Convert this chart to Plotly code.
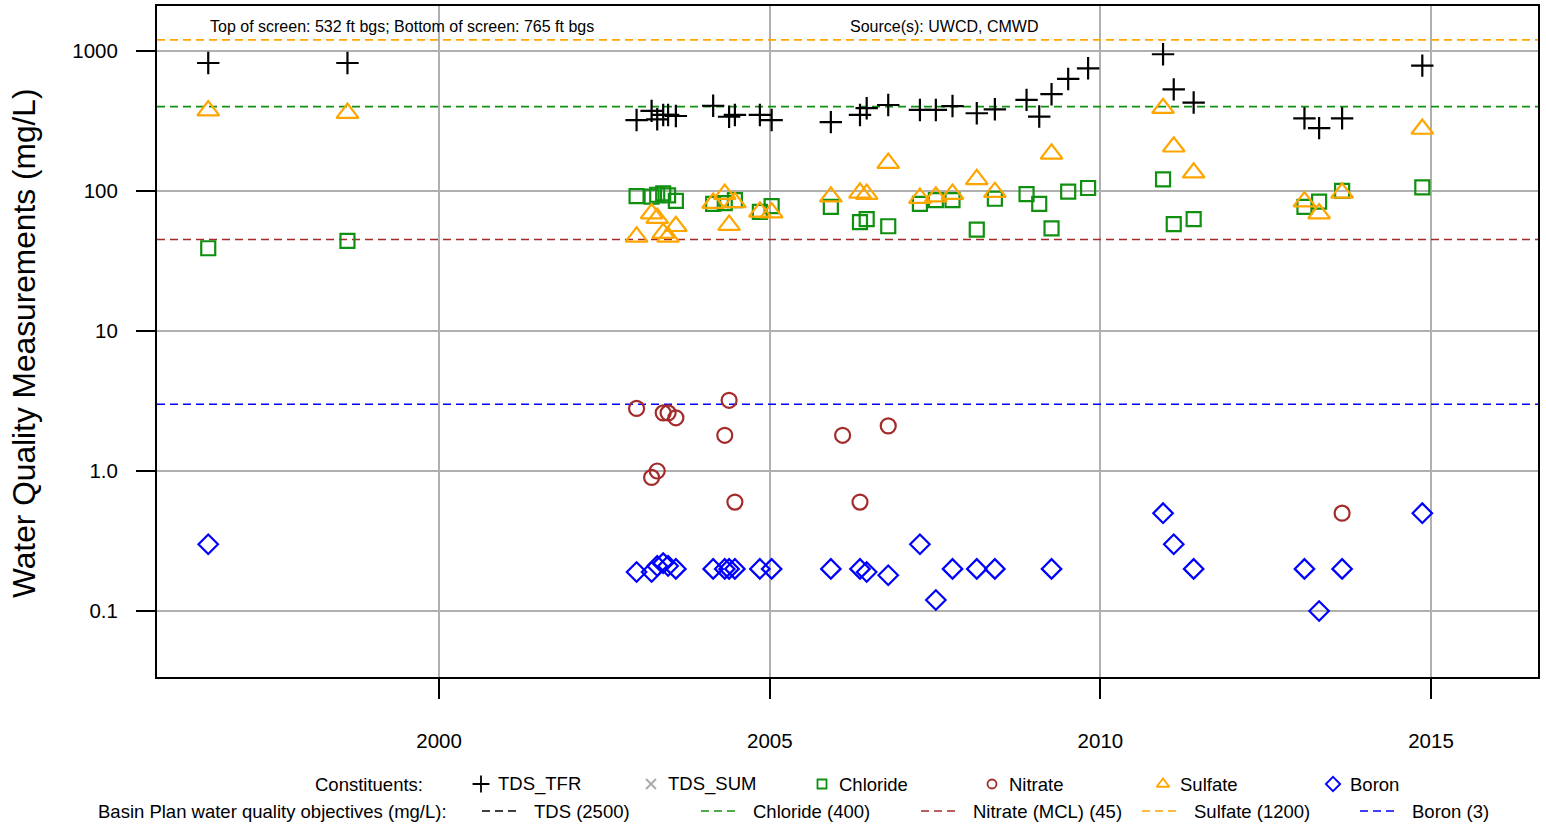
import plotly.graph_objects as go

# ---------------- data ----------------
sample_dates = [
    "1996-07-05", "1998-08-13", "2002-12-27", "2003-03-20", "2003-04-20", "2003-05-23",
    "2003-06-19", "2003-08-01", "2004-02-23", "2004-04-27", "2004-05-21", "2004-06-22",
    "2004-11-07", "2005-01-11", "2005-12-04", "2006-02-07", "2006-05-14", "2006-06-20",
    "2006-10-17", "2007-04-10", "2007-07-07", "2007-10-07", "2008-02-18", "2008-05-28",
    "2008-11-19", "2009-01-28", "2009-04-06", "2009-07-07", "2009-10-25", "2010-12-13",
    "2011-02-10", "2011-05-31", "2013-02-01", "2013-04-23", "2013-08-28", "2014-11-14",
]

tds_tfr = [820, 820, 321, 373, 325, 349, 349, 343, 406, None, 339, 349,
           349, 321, 310, None, 349, 390, 411, 379, 379, 404, 359, 383,
           447, 340, 491, 631, 752, 947, 532, 428, 330, 281, 330, 785]

chloride = [39, 44, 92, 91, 94, 96, 93, 85, 81, 82, None, 86,
            71, 78, 77, None, 60, 63, 56, 81, 86, 86, 53, 88,
            95, 81, 54, 99, 105, 121, 58, 63, 77, 84, 100, 106]

nitrate = [None, None, 2.8, 0.9, 1.0, 2.6, 2.6, 2.4, None, 1.8, 3.2, 0.6,
           None, None, None, 1.8, 0.6, None, 2.1, None, None, None, None, None,
           None, None, None, None, None, None, None, None, None, None, 0.5, None]

sulfate = [375, 360, 47, 69, 64, 50, 47, 56, 82, 95, 57, 83,
           71, 70, 91, None, 97, 95, 158, 89, 91, 95, 121, 98,
           None, None, 184, None, None, 390, 207, 135, 84, 69, 97, 277]

boron = [0.30, None, 0.19, 0.19, 0.21, 0.22, 0.21, 0.20, 0.20, 0.20, 0.20, 0.20,
         0.20, 0.20, 0.20, None, 0.20, 0.19, 0.18, 0.30, 0.12, 0.20, 0.20, 0.20,
         None, None, 0.20, None, None, 0.50, 0.30, 0.20, 0.20, 0.10, 0.20, 0.50]

objective_names = ["TDS (2500)", "Chloride (400)", "Nitrate (MCL) (45)", "Sulfate (1200)", "Boron (3)"]
objective_values = [2500, 400, 45, 1200, 3]

constituent_names = ["TDS_TFR", "TDS_SUM", "Chloride", "Nitrate", "Sulfate", "Boron"]

x_tick_vals = ["2000-01-01", "2005-01-01", "2010-01-01", "2015-01-01"]
x_tick_text = ["2000", "2005", "2010", "2015"]
y_tick_vals = [0.1, 1, 10, 100, 1000]
y_tick_text = ["0.1", "1.0", "10", "100", "1000"]

x_range = ["1995-09-26", "2016-08-14"]
y_range_log = [-1.471, 3.321]

# ---------------- styles ----------------
FONT = "Liberation Sans, Arial, sans-serif"
GREEN = "#109010"
BROWN = "#A52A2A"
ORANGE = "#FFA500"
BLUE = "#0000FF"
GRAYX = "#a8a8a8"
obj_colors = ["black", GREEN, BROWN, ORANGE, BLUE]
cons_symbols = ["cross-thin-open", "x-thin-open", "square-open", "circle-open", "triangle-up-open", "diamond-open"]
cons_colors = ["black", GRAYX, GREEN, BROWN, ORANGE, BLUE]
cons_sizes = [16, 12, 14, 15, 19, 15]

W, H = 1546, 827
L, R, T, B = 157, 1538, 6, 677

fig = go.Figure()

# objective lines
for name, val, col in zip(objective_names, objective_values, obj_colors):
    fig.add_trace(go.Scatter(
        x=x_range, y=[val, val], mode="lines",
        line=dict(color=col, width=1.6, dash="8px,5px"),
        hoverinfo="skip", showlegend=False, cliponaxis=True))

series = [tds_tfr, None, chloride, nitrate, sulfate, boron]
for name, vals, sym, col, sz in zip(constituent_names, series, cons_symbols, cons_colors, cons_sizes):
    if vals is None:
        continue
    fig.add_trace(go.Scatter(
        x=sample_dates, y=vals, mode="markers", name=name,
        marker=dict(symbol=sym, size=sz, color=col, line=dict(color=col, width=2.2)),
        showlegend=False))

# ---------------- custom legend (auxiliary axes in pixel space) ----------------
row1_y, row2_y = 784, 811
leg_x = [481, 651, 822, 992, 1163, 1333]
leg_sizes = [12, 10, 9, 9, 11, 11]
for name, sym, col, xp, sz in zip(constituent_names, cons_symbols, cons_colors, leg_x, leg_sizes):
    fig.add_trace(go.Scatter(
        x=[xp], y=[row1_y], xaxis="x2", yaxis="y2", mode="markers",
        marker=dict(symbol=sym, size=sz, color=col, line=dict(color=col, width=1.8)),
        hoverinfo="skip", showlegend=False))

LEG_FS = 18.5
annotations = []
shapes = []
annotations.append(dict(text="Constituents:", x=425, y=row1_y, xref="x2", yref="y2",
                        xanchor="right", yanchor="middle", showarrow=False,
                        font=dict(family=FONT, size=LEG_FS, color="black")))
for name, xp in zip(constituent_names, leg_x):
    annotations.append(dict(text=name, x=xp + 15, y=row1_y, xref="x2", yref="y2",
                            xanchor="left", yanchor="middle", showarrow=False,
                            font=dict(family=FONT, size=LEG_FS, color="black")))

annotations.append(dict(text="Basin Plan water quality objectives (mg/L):", x=449, y=row2_y,
                        xref="x2", yref="y2", xanchor="right", yanchor="middle", showarrow=False,
                        font=dict(family=FONT, size=LEG_FS, color="black")))
line_x = [482, 701, 921, 1142, 1360]
for name, col, xp in zip(objective_names, obj_colors, line_x):
    shapes.append(dict(type="line", xref="x2", yref="y2", x0=xp, x1=xp + 37, y0=row2_y, y1=row2_y,
                       line=dict(color=col, width=1.6, dash="8px,5px")))
    annotations.append(dict(text=name, x=xp + 50, y=row2_y, xref="x2", yref="y2",
                            xanchor="left", yanchor="middle", showarrow=False,
                            font=dict(family=FONT, size=LEG_FS, color="black")))

# header texts
annotations.append(dict(text="Top of screen: 532 ft bgs; Bottom of screen: 765 ft bgs", x=208, y=26,
                        xref="x2", yref="y2", xanchor="left", yanchor="middle", showarrow=False,
                        font=dict(family=FONT, size=16, color="black")))
annotations.append(dict(text="Source(s): UWCD, CMWD", x=848, y=26,
                        xref="x2", yref="y2", xanchor="left", yanchor="middle", showarrow=False,
                        font=dict(family=FONT, size=16, color="black")))
# y-axis title
annotations.append(dict(text="Water Quality Measurements (mg/L)", x=24, y=343,
                        xref="x2", yref="y2", xanchor="center", yanchor="middle", showarrow=False,
                        textangle=-90, font=dict(family=FONT, size=31.7, color="black")))

fig.update_layout(
    width=W, height=H,
    margin=dict(l=0, r=0, t=0, b=0),
    paper_bgcolor="white",
    plot_bgcolor="rgba(0,0,0,0)",
    font=dict(family=FONT, color="black"),
    showlegend=False,
    xaxis=dict(
        type="date", range=x_range, domain=[L / W, R / W],
        tickvals=x_tick_vals, ticktext=x_tick_text,
        tickfont=dict(family=FONT, size=20.5, color="black"),
        showgrid=True, gridcolor="#b0b0b0", gridwidth=2,
        showline=True, linecolor="black", linewidth=2, mirror=True,
        ticks="outside", ticklen=20, tickwidth=1.5, tickcolor="black",
        ticklabelstandoff=24, zeroline=False, anchor="y",
    ),
    yaxis=dict(
        type="log", range=y_range_log, domain=[(H - B) / H, (H - T) / H],
        tickvals=y_tick_vals, ticktext=y_tick_text,
        tickfont=dict(family=FONT, size=20.5, color="black"),
        showgrid=True, gridcolor="#b0b0b0", gridwidth=2,
        showline=True, linecolor="black", linewidth=2, mirror=True,
        ticks="outside", ticklen=19, tickwidth=1.5, tickcolor="black",
        ticklabelstandoff=14, zeroline=False, anchor="x",
    ),
    xaxis2=dict(domain=[0, 1], range=[0, W], visible=False, fixedrange=True, anchor="y2"),
    yaxis2=dict(domain=[0, 1], range=[H, 0], visible=False, fixedrange=True, anchor="x2"),
    annotations=annotations,
    shapes=shapes,
)

fig.write_html("out.html", config={"displayModeBar": False},
               post_script="document.body.style.margin='0';")
